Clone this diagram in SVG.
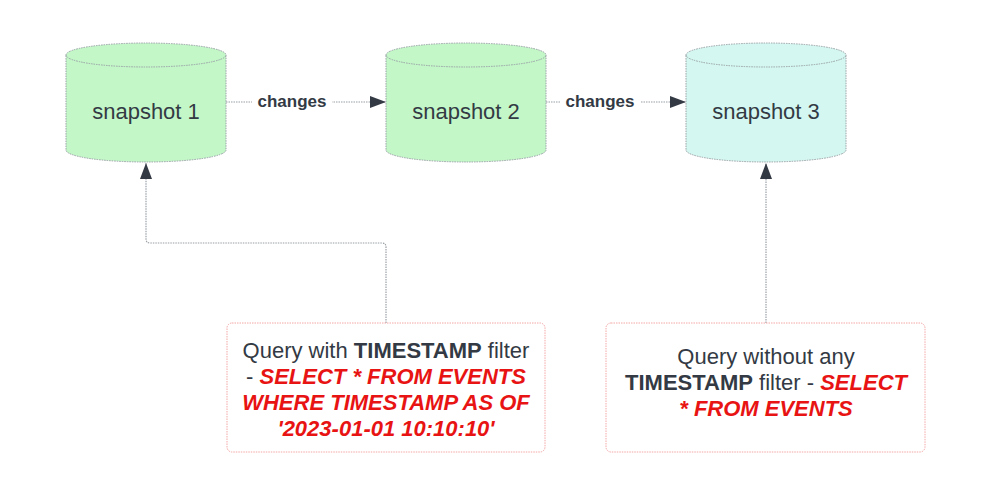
<svg xmlns="http://www.w3.org/2000/svg" width="991" height="497" viewBox="0 0 991 497">
<defs>
<marker id="ah" markerWidth="16" markerHeight="12" refX="16" refY="6" orient="auto" markerUnits="userSpaceOnUse">
<path d="M0,0 L16,6 L0,12 Z" fill="#333a44"/>
</marker>
<style>
.cyl{stroke:#9aa0a6;stroke-width:1;stroke-dasharray:1.5 1}
.g{fill:#c3f7c8}
.c{fill:#d4f8f1}
.lbl{font-family:"Liberation Sans",Arial,sans-serif;font-size:22px;fill:#333a44;text-anchor:middle}
.edge{fill:none;stroke:#9aa0a6;stroke-width:1.2;stroke-dasharray:1.5 1}
.el{font-family:"Liberation Sans",Arial,sans-serif;font-size:17px;font-weight:bold;fill:#333a44;text-anchor:middle}
.box{fill:#ffffff;stroke:#f4a6a6;stroke-width:1;stroke-dasharray:1.5 1}
.q{font-family:"Liberation Sans",Arial,sans-serif;font-size:22px;fill:#333a44;text-anchor:middle}
.b{font-weight:bold}
.r{font-weight:bold;font-style:italic;fill:#e81313}
</style>
</defs>
<rect width="991" height="497" fill="#ffffff"/>
<g id="connectors">
<line class="edge" x1="226" y1="102" x2="386" y2="102" marker-end="url(#ah)"/>
<rect x="252" y="90" width="80" height="22" fill="#ffffff"/>
<text class="el" x="292" y="107">changes</text>
<line class="edge" x1="546" y1="102" x2="686" y2="102" marker-end="url(#ah)"/>
<rect x="560" y="90" width="80" height="22" fill="#ffffff"/>
<text class="el" x="600" y="107">changes</text>
<path class="edge" d="M386,323 V247 Q386,243 382,243 H150 Q146,243 146,239 V163" marker-end="url(#ah)"/>
<line class="edge" x1="766" y1="323" x2="766" y2="163" marker-end="url(#ah)"/>
</g>
<g id="snapshot1">
<path class="cyl g" d="M66,55 A80,12 0 0 1 226,55 V150 A80,12 0 0 1 66,150 Z"/>
<path class="cyl" fill="none" d="M66,55 A80,12 0 0 0 226,55"/>
<text class="lbl" x="146" y="119">snapshot 1</text>
</g>
<g id="snapshot2">
<path class="cyl g" d="M386,55 A80,12 0 0 1 546,55 V150 A80,12 0 0 1 386,150 Z"/>
<path class="cyl" fill="none" d="M386,55 A80,12 0 0 0 546,55"/>
<text class="lbl" x="466" y="119">snapshot 2</text>
</g>
<g id="snapshot3">
<path class="cyl c" d="M686,55 A80,12 0 0 1 846,55 V150 A80,12 0 0 1 686,150 Z"/>
<path class="cyl" fill="none" d="M686,55 A80,12 0 0 0 846,55"/>
<text class="lbl" x="766" y="119">snapshot 3</text>
</g>
<g id="query1">
<rect class="box" x="227" y="323" width="318" height="129" rx="5"/>
<text class="q" x="386" y="358">Query with <tspan class="b">TIMESTAMP</tspan> filter</text>
<text class="q" x="386" y="384">- <tspan class="r">SELECT * FROM EVENTS</tspan></text>
<text class="q r" x="386" y="410">WHERE TIMESTAMP AS OF</text>
<text class="q r" x="386" y="436">'2023-01-01 10:10:10'</text>
</g>
<g id="query2">
<rect class="box" x="606" y="323" width="319" height="129" rx="5"/>
<text class="q" x="766" y="364">Query without any</text>
<text class="q" x="766" y="390"><tspan class="b">TIMESTAMP</tspan> filter - <tspan class="r">SELECT</tspan></text>
<text class="q r" x="766" y="416">* FROM EVENTS</text>
</g>
</svg>
